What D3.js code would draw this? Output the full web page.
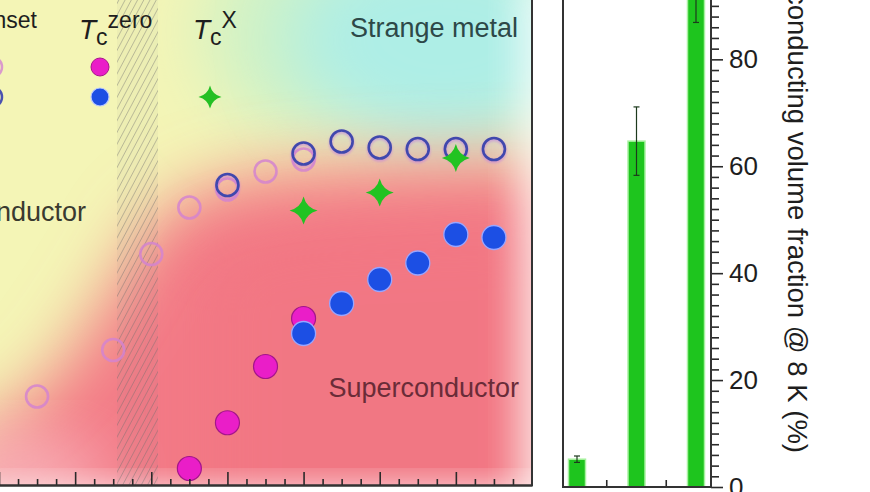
<!DOCTYPE html>
<html>
<head>
<meta charset="utf-8">
<script src="https://cdn.jsdelivr.net/npm/d3@7"></script>
<style>
  html, body { margin: 0; padding: 0; background: #ffffff; }
  svg { display: block; font-family: "Liberation Sans", Arial, sans-serif; }
</style>
</head>
<body>
<svg id="chart" width="870" height="492"></svg>
<script>
// ---------- data (left panel: phase diagram) ----------
const onsetPinkX = [0.5, 1.5, 2.0, 2.5, 3.0, 3.5, 4.0];
const onsetPinkT = [5.9, 9.0, 15.4, 18.5, 19.7, 20.9, 21.7];
const onsetBlueX = [3.0, 4.0, 4.5, 5.0, 5.5, 6.0, 6.5];
const onsetBlueT = [20.0, 22.1, 22.9, 22.5, 22.4, 22.4, 22.4];
const zeroPinkX = [2.5, 3.0, 3.5, 4.0];
const zeroPinkT = [1.1, 4.15, 7.9, 11.1];
const zeroBlueX = [4.0, 4.5, 5.0, 5.5, 6.0, 6.5];
const zeroBlueT = [10.1, 12.1, 13.7, 14.8, 16.7, 16.5];
const tcXX = [4.0, 5.0, 6.0];
const tcXT = [18.3, 19.5, 21.8];

// ---------- data (right panel: volume fraction bars) ----------
const barCategories = ["S1", "S2", "S3"];
const barValues = [5.2, 64.7, 93.2];
const barErrors = [0.6, 6.4, 6.3];
const barTickValues = [0, 20, 40, 60, 80];

const svg = d3.select("#chart");
const defs = svg.append("defs");

// ---------- left panel scales ----------
const x = d3.scaleLinear().domain([0, 7]).range([-1, 532]);
const y = d3.scaleLinear().domain([0, 32]).range([485, 5]);

defs.append("clipPath").attr("id", "clipL")
  .append("rect").attr("x", 0).attr("y", 0).attr("width", 532).attr("height", 485);

const mkBlur = (id, sd) => defs.append("filter").attr("id", id)
  .attr("x", "-50%").attr("y", "-50%").attr("width", "200%").attr("height", "200%")
  .append("feGaussianBlur").attr("stdDeviation", sd);
mkBlur("blurBig", 34);
mkBlur("blurMid", 18);
mkBlur("blurSmall", 1.2);

const pat = defs.append("pattern").attr("id", "hatch")
  .attr("patternUnits", "userSpaceOnUse").attr("width", 5.5).attr("height", 10)
  .attr("patternTransform", "rotate(28)");
pat.append("line").attr("x1", 0).attr("y1", 0).attr("x2", 0).attr("y2", 10)
  .attr("stroke", "#6d6d6d").attr("stroke-width", 1);

const bg = svg.append("g").attr("clip-path", "url(#clipL)");
bg.append("rect").attr("x", -10).attr("y", -10).attr("width", 560).attr("height", 510).attr("fill", "#f4f5b6");
bg.append("ellipse").attr("cx", 290).attr("cy", 30).attr("rx", 90).attr("ry", 100)
  .attr("fill", "#d0f2c6").attr("filter", "url(#blurBig)");
bg.append("ellipse").attr("cx", 445).attr("cy", 40).attr("rx", 155).attr("ry", 110)
  .attr("fill", "#aeeee6").attr("filter", "url(#blurBig)");
// red superconducting dome
const domePts = [[-60, 560], [-60, 445], [10, 415], [60, 370], [110, 295], [150, 225], [200, 190],
  [260, 176], [330, 170], [420, 165], [560, 162], [560, 560]];
bg.append("path").attr("d", d3.line()(domePts)).attr("fill", "#f37a86").attr("filter", "url(#blurBig)");
bg.append("path").attr("d", d3.line()([[200, 560], [200, 250], [300, 225], [560, 215], [560, 560]]))
  .attr("fill", "#f17581").attr("opacity", 0.5).attr("filter", "url(#blurBig)");
// light edges
bg.append("rect").attr("x", 518).attr("y", -20).attr("width", 60).attr("height", 540)
  .attr("fill", "#ffffff").attr("opacity", 0.7).attr("filter", "url(#blurMid)");
bg.append("rect").attr("x", -60).attr("y", 488).attr("width", 650).attr("height", 40)
  .attr("fill", "#ffffff").attr("opacity", 0.85).attr("filter", "url(#blurMid)");
bg.append("ellipse").attr("cx", 20).attr("cy", 480).attr("rx", 90).attr("ry", 40)
  .attr("fill", "#ffffff").attr("opacity", 0.45).attr("filter", "url(#blurBig)");

// hatched band
bg.append("rect").attr("x", 117).attr("y", 0).attr("width", 41).attr("height", 485)
  .attr("fill", "#808080").attr("opacity", 0.06);
bg.append("rect").attr("x", 117).attr("y", 0).attr("width", 41).attr("height", 485)
  .attr("fill", "url(#hatch)").attr("opacity", 0.75);

// region labels
svg.append("text").attr("x", 518).attr("y", 37).attr("text-anchor", "end")
  .attr("font-size", 27).attr("fill", "#2d4848").text("Strange metal");
svg.append("text").attr("x", 519).attr("y", 397).attr("text-anchor", "end")
  .attr("font-size", 27).attr("fill", "#6a2c38").text("Superconductor");
svg.append("text").attr("x", 86).attr("y", 221).attr("text-anchor", "end")
  .attr("font-size", 27).attr("fill", "#3a3a30").text("Non-superconductor");

// legend headers
function tcHeader(xPos, sup, anchor) {
  const t = svg.append("text").attr("x", xPos).attr("y", 39).attr("text-anchor", anchor)
    .attr("fill", "#1e1e1e");
  t.append("tspan").attr("font-size", 28).attr("font-style", "italic").text("T");
  t.append("tspan").attr("font-size", 23).attr("dy", 6).text("c");
  t.append("tspan").attr("font-size", 23).attr("dy", -17).text(sup);
}
tcHeader(37, "onset", "end");
tcHeader(79, "zero", "start");
tcHeader(193, "X", "start");

// 4-pointed star symbol
const star4 = {
  draw(ctx, size) {
    const r = Math.sqrt(size) / 2, k = r * 0.2;
    ctx.moveTo(0, -r);
    ctx.quadraticCurveTo(k, -k, r, 0);
    ctx.quadraticCurveTo(k, k, 0, r);
    ctx.quadraticCurveTo(-k, k, -r, 0);
    ctx.quadraticCurveTo(-k, -k, 0, -r);
    ctx.closePath();
  }
};

const marks = svg.append("g").attr("clip-path", "url(#clipL)");

// legend markers
marks.append("circle").attr("cx", -8).attr("cy", 67).attr("r", 10)
  .attr("fill", "none").attr("stroke", "#d58ad0").attr("stroke-width", 2.5).attr("opacity", 0.85);
marks.append("circle").attr("cx", -8).attr("cy", 97).attr("r", 10)
  .attr("fill", "none").attr("stroke", "#4a52b0").attr("stroke-width", 2.5);
marks.append("circle").attr("cx", 100).attr("cy", 67).attr("r", 9)
  .attr("fill", "#ea1ec8").attr("stroke", "#a8168c").attr("stroke-width", 1);
marks.append("circle").attr("cx", 100).attr("cy", 97).attr("r", 9)
  .attr("fill", "#1d4fe4").attr("stroke", "#b8c8ff").attr("stroke-width", 1.2);
marks.append("path").attr("transform", "translate(210,97)")
  .attr("d", d3.symbol().type(star4).size(23 * 23)()).attr("fill", "#24c024");

marks.selectAll(".po").data(onsetPinkX).join("circle")
  .attr("cx", d => x(d)).attr("cy", (d, i) => y(onsetPinkT[i])).attr("r", 11)
  .attr("fill", "none").attr("stroke", "#d484cf").attr("stroke-width", 2.6).attr("opacity", 0.85);
marks.selectAll(".bh").data(onsetBlueX).join("circle")
  .attr("cx", d => x(d)).attr("cy", (d, i) => y(onsetBlueT[i]) + 1.5).attr("r", 11)
  .attr("fill", "none").attr("stroke", "#c27ee0").attr("stroke-width", 3.5).attr("opacity", 0.55)
  .attr("filter", "url(#blurSmall)");
marks.selectAll(".bo").data(onsetBlueX).join("circle")
  .attr("cx", d => x(d)).attr("cy", (d, i) => y(onsetBlueT[i])).attr("r", 11)
  .attr("fill", "none").attr("stroke", "#4048ad").attr("stroke-width", 2.6);
marks.selectAll(".st").data(tcXX).join("path")
  .attr("transform", (d, i) => `translate(${x(d)},${y(tcXT[i])})`)
  .attr("d", d3.symbol().type(star4).size(28 * 28)()).attr("fill", "#22c322");
marks.selectAll(".zp").data(zeroPinkX).join("circle")
  .attr("cx", d => x(d)).attr("cy", (d, i) => y(zeroPinkT[i])).attr("r", 12)
  .attr("fill", "#ea1ec8").attr("stroke", "#a3168a").attr("stroke-width", 1.2);
marks.selectAll(".zb").data(zeroBlueX).join("circle")
  .attr("cx", d => x(d)).attr("cy", (d, i) => y(zeroBlueT[i])).attr("r", 12)
  .attr("fill", "#1c4fe4").attr("stroke", "#9aa6ff").attr("stroke-width", 1.3);

// left axes
const axL = svg.append("g").attr("transform", "translate(0,485)");
axL.call(d3.axisBottom(x).tickValues(d3.range(0, 7.01, 0.25).filter(v => v % 1 !== 0))
  .tickSizeInner(-6).tickSizeOuter(0).tickFormat(""));
const axLM = svg.append("g").attr("transform", "translate(0,485)");
axLM.call(d3.axisBottom(x).tickValues(d3.range(0, 7, 1)).tickSizeInner(-13).tickSizeOuter(0).tickFormat(""));
[axL, axLM].forEach(g => {
  g.selectAll(".tick line").attr("stroke", "#2a2a2a").attr("stroke-width", 1.6);
  g.select(".domain").attr("stroke", "#333").attr("stroke-width", 2.2);
});
svg.append("line").attr("x1", 532).attr("x2", 532).attr("y1", 0).attr("y2", 486)
  .attr("stroke", "#333").attr("stroke-width", 2);

// ---------- right panel ----------
const R = { left: 563, right: 711, bottom: 487 };
const xb = d3.scalePoint().domain(barCategories).range([577, 696]);
const yb = d3.scaleLinear().domain([0, 91.1]).range([487, 0]);
const bw = 17;

svg.append("g").selectAll("rect").data(barCategories).join("rect")
  .attr("x", d => xb(d) - bw / 2).attr("width", bw)
  .attr("y", (d, i) => yb(barValues[i])).attr("height", (d, i) => yb(0) - yb(barValues[i]))
  .attr("fill", "#1ec51e").attr("stroke", "#a8f2a0").attr("stroke-width", 1.5);
const err = svg.append("g").attr("stroke", "#1d3a1d").attr("stroke-width", 1.2);
barCategories.forEach((c, i) => {
  const cx = xb(c), y1 = yb(barValues[i] + barErrors[i]), y2 = yb(barValues[i] - barErrors[i]);
  err.append("line").attr("x1", cx).attr("x2", cx).attr("y1", y1).attr("y2", y2);
  err.append("line").attr("x1", cx - 3).attr("x2", cx + 3).attr("y1", y1).attr("y2", y1);
  err.append("line").attr("x1", cx - 3).attr("x2", cx + 3).attr("y1", y2).attr("y2", y2);
});

const ayMinor = svg.append("g").attr("transform", `translate(${R.right},0)`)
  .call(d3.axisRight(yb).tickValues(d3.range(0, 92, 2).filter(v => v % 20 !== 0))
    .tickSizeInner(8).tickSizeOuter(0).tickFormat(""));
const ay = svg.append("g").attr("transform", `translate(${R.right},0)`)
  .call(d3.axisRight(yb).tickValues(barTickValues).tickSizeInner(12).tickSizeOuter(0).tickPadding(6));
[ayMinor, ay].forEach(g => {
  g.select(".domain").remove();
  g.selectAll(".tick line").attr("stroke", "#2a2a2a").attr("stroke-width", 1.6);
});
ay.selectAll(".tick text").attr("font-size", 26).attr("fill", "#1e1e1e")
  .attr("font-family", "Liberation Sans, Arial, sans-serif");

const midTicks = barCategories.slice(1).map((c, i) => (xb(barCategories[i]) + xb(c)) / 2);
svg.append("g").selectAll("line").data(midTicks).join("line")
  .attr("x1", d => d).attr("x2", d => d).attr("y1", R.bottom).attr("y2", R.bottom - 7)
  .attr("stroke", "#2a2a2a").attr("stroke-width", 1.6);

svg.append("path")
  .attr("d", d3.line()([[R.left, 0], [R.left, R.bottom], [R.right, R.bottom], [R.right, 0]]))
  .attr("fill", "none").attr("stroke", "#333").attr("stroke-width", 2);

svg.append("text").attr("transform", "translate(788,453) rotate(90)")
  .attr("text-anchor", "end").attr("font-size", 27.5).attr("fill", "#1e1e1e")
  .text("Superconducting volume fraction @ 8 K (%)");
</script>
</body>
</html>
